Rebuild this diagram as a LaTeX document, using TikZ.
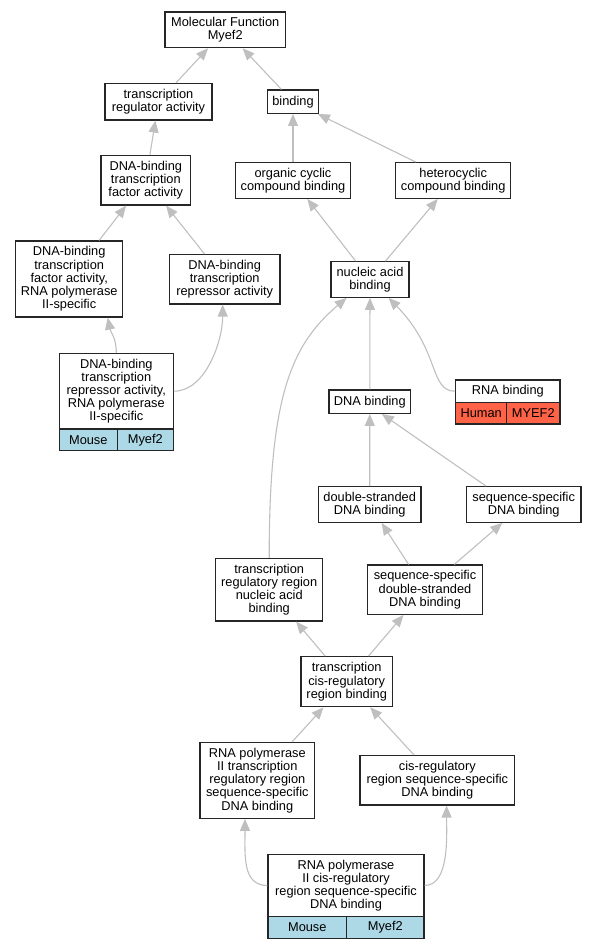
\documentclass[tikz,border=0pt]{standalone}
\usepackage{fontspec}
\setmainfont{Liberation Sans}
\usetikzlibrary{arrows.meta}
\definecolor{lightblue}{HTML}{ADD8E6}
\definecolor{tomato}{HTML}{FF6347}
\tikzset{
	term/.style={draw=black!85, line width=1.2pt, fill=white, align=center, inner sep=0pt, font=\fontsize{12.8}{13.2}\selectfont},
	mouse/.style={term, fill=lightblue},
	human/.style={term, fill=tomato},
	sz/.style n args={2}{minimum width=#1pt, minimum height=#2pt},
	isa/.style={draw=black!25, line width=1.1pt, -{Triangle[length=12pt,width=10pt]}}
}
\begin{document}
\begin{tikzpicture}[x=1pt,y=-1pt]
	\useasboundingbox (0,0) rectangle (597,949);
	\node[term, sz={120.3}{35.7}] (mf) at (225.2,29.8) {Molecular Function\\Myef2};
	\node[term, sz={107}{36.5}] (tra) at (158.5,101.7) {transcription\\regulator activity};
	\node[term, sz={51.7}{23.3}] (bind) at (293,101.7) {binding};
	\node[term, sz={89.7}{49.7}] (dbtfa) at (145.8,180.2) {DNA-binding\\transcription\\factor activity};
	\node[term, sz={115.3}{35.7}] (ocb) at (293,180.5) {organic cyclic\\compound binding};
	\node[term, sz={115}{35.7}] (hcb) at (453.2,180.5) {heterocyclic\\compound binding};
	\node[term, sz={107}{76}] (dbtfa2) at (69.2,279) {DNA-binding\\transcription\\factor activity,\\RNA polymerase\\II-specific};
	\node[term, sz={110.7}{49.3}] (dbtra) at (224.7,279.3) {DNA-binding\\transcription\\repressor activity};
	\node[term, sz={78}{35.5}] (nab) at (370,279.5) {nucleic acid\\binding};
	\node[term, sz={114}{75.7}] (dbtrar) at (116.3,391.2) {DNA-binding\\transcription\\repressor activity,\\RNA polymerase\\II-specific};
	\node[mouse, sz={58}{21.7}] (dbtrarA) at (88.3,439.9) {Mouse};
	\node[mouse, sz={56}{21.7}] (dbtrarB) at (145.3,439.9) {Myef2};
	\node[term, sz={104.3}{22.3}] (rnab) at (507.9,391.2) {RNA binding};
	\node[human, sz={51}{21.7}] (rnabA) at (481.2,413.2) {Human};
	\node[human, sz={53.3}{21.7}] (rnabB) at (533.3,413.2) {MYEF2};
	\node[term, sz={81.7}{23.3}] (dnab) at (369.8,401.7) {DNA binding};
	\node[term, sz={102.7}{35.7}] (dsdb) at (369.7,504.5) {double-stranded\\DNA binding};
	\node[term, sz={114.7}{35.7}] (ssdb) at (523.7,504.5) {sequence-specific\\DNA binding};
	\node[term, sz={107}{62.7}] (trrnab) at (269.2,589.7) {transcription\\regulatory region\\nucleic acid\\binding};
	\node[term, sz={115.3}{49.3}] (ssdsdb) at (425,589.7) {sequence-specific\\double-stranded\\DNA binding};
	\node[term, sz={91.3}{50}] (tcrb) at (346.7,681.7) {transcription\\cis-regulatory\\region binding};
	\node[term, sz={114.7}{76}] (rnap2) at (257.3,780.3) {RNA polymerase\\II transcription\\regulatory region\\sequence-specific\\DNA binding};
	\node[term, sz={154.7}{49.3}] (crssdb) at (437.3,780.3) {cis-regulatory\\region sequence-specific\\DNA binding};
	\node[term, sz={156}{62.3}] (rnap2cr) at (346,885.5) {RNA polymerase\\II cis-regulatory\\region sequence-specific\\DNA binding};
	\node[mouse, sz={78.7}{21.7}] (rnap2crA) at (307.3,927.5) {Mouse};
	\node[mouse, sz={77.3}{21.7}] (rnap2crB) at (385.3,927.5) {Myef2};
	\draw[isa] (tra) -- (mf);
	\draw[isa] (bind) -- (mf);
	\draw[isa] (dbtfa) -- (tra);
	\draw[isa] (ocb) -- (bind);
	\draw[isa] (hcb) -- (bind);
	\draw[isa] (dbtfa2) -- (dbtfa);
	\draw[isa] (dbtra) -- (dbtfa);
	\draw[isa] (nab) -- (ocb);
	\draw[isa] (nab) -- (hcb);
	\draw[isa] (dbtrar.north) .. controls +(0,-15) and +(3,15) .. ([xshift=38.5pt]dbtfa2.south);
	\draw[isa] (dbtrar.east) .. controls +(32,0) and +(0,36) .. ([xshift=-2pt]dbtra.south);
	\draw[isa] (dnab) -- (nab);
	\draw[isa] (rnab.west) .. controls +(-26,0) and +(52,53) .. ([xshift=18.5pt]nab.south);
	\draw[isa] (trrnab.north) .. controls +(0,-158) and +(-57,48) .. ([xshift=-23.3pt]nab.south);
	\draw[isa] (dsdb) -- (dnab);
	\draw[isa] ([xshift=-37.7pt]ssdb.north) -- ([xshift=12pt]dnab.south);
	\draw[isa] (ssdsdb) -- (dsdb);
	\draw[isa] (ssdsdb) -- (ssdb);
	\draw[isa] (tcrb) -- (trrnab);
	\draw[isa] (tcrb) -- (ssdsdb);
	\draw[isa] (rnap2) -- (tcrb);
	\draw[isa] (crssdb) -- (tcrb);
	\draw[isa] (rnap2cr.west) .. controls +(-25,0) and +(0,37) .. ([xshift=-12.3pt]rnap2.south);
	\draw[isa] (rnap2cr.east) .. controls +(25,0) and +(0,30) .. ([xshift=9.3pt]crssdb.south);
\end{tikzpicture}
\end{document}
